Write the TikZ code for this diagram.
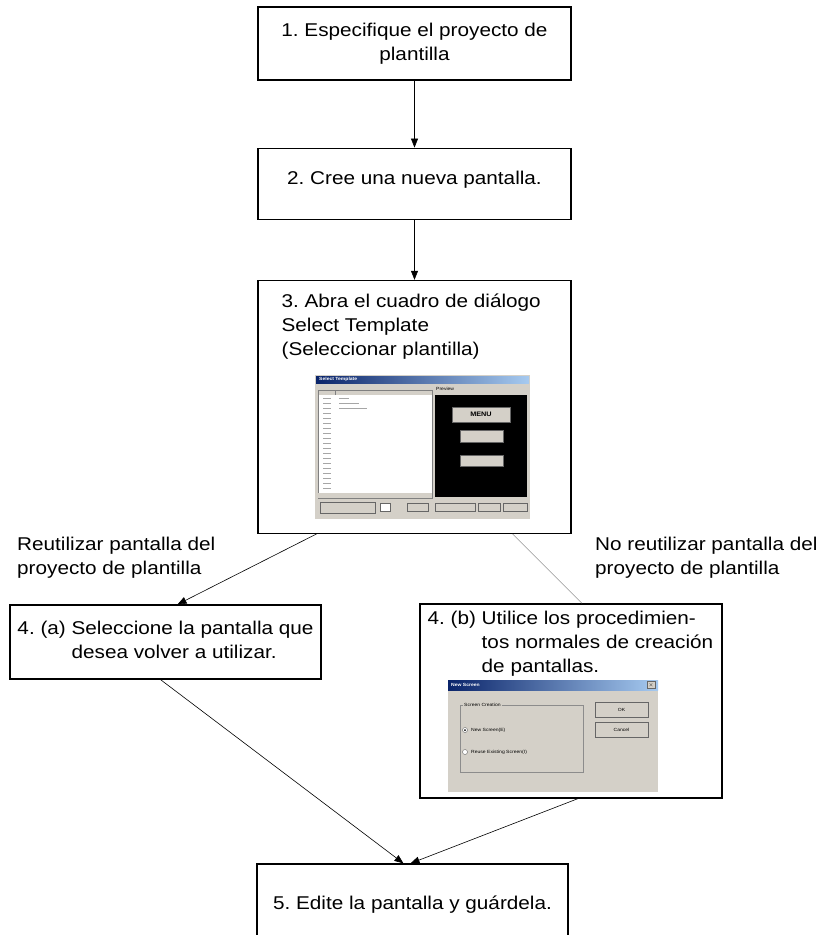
\documentclass[tikz,border=0pt]{standalone}
\usepackage{fontspec}
\setmainfont{Liberation Sans}[FakeStretch=1.12]
\usetikzlibrary{arrows.meta,positioning}
\definecolor{winface}{HTML}{D4D0C8}
\definecolor{wintitle}{HTML}{0A246A}
\definecolor{wintitleb}{HTML}{A6CAF0}
\definecolor{linkgrey}{HTML}{707070}
\frenchspacing

\begin{document}
\begin{tikzpicture}[x=1pt,y=-1pt,node distance=60pt,
  stepbox/.style={draw,line width=1.2pt,inner sep=4pt,align=center,
                  font=\fontsize{18.5}{24}\selectfont},
  caption/.style={inner sep=0pt,align=left,font=\fontsize{18.5}{24}\selectfont},
  link/.style={line width=0.6pt,-{Triangle[length=9pt,width=7pt]}},
  winbtn/.style={fill=winface,draw=black!60,line width=0.5pt,inner sep=0pt,
                 font=\fontsize{4.5}{5}\selectfont},
  wintext/.style={inner sep=1pt,font=\fontsize{4.5}{5}\selectfont}]
  \useasboundingbox[fill=white] (0,0) rectangle (823,935);

  \node[stepbox,minimum width=313pt,minimum height=73pt] (b1) at (414.5,43.5)
    {1. Especifique el proyecto de\\plantilla};
  \node[stepbox,minimum width=313pt,minimum height=71pt,text depth=12pt,
        below=67pt of b1] (b2)
    {2. Cree una nueva pantalla.};
  \node[stepbox,minimum width=313pt,minimum height=253pt,below=60pt of b2] (b3) {};
  \node[caption,anchor=north west] (t3) at ([xshift=24pt,yshift=-14pt]b3.north west)
    {3. Abra el cuadro de diálogo\\Select Template\\(Seleccionar plantilla)};

  % Select Template dialog
  \begin{scope}[shift={(315,375)}]
    \fill[winface] (0,0) rectangle (215,144);
    \shade[left color=wintitle,right color=wintitleb] (1,1) rectangle (214,8);
    \node[wintext,anchor=west,text=white] (sttitle) at (3,4.5) {\bfseries Select Template};
    \fill[white] (3,15) rectangle (117,123);
    \fill[winface] (3,15) rectangle (117,20);
    \draw[black!50,line width=0.4pt] (3,15) rectangle (117,123) (20,15) -- (20,20);
    \foreach \r in {0,...,19}
      \draw[black!35,line width=1pt] (8,23+5*\r) -- (16,23+5*\r);
    \draw[black!35,line width=1pt] (24,23) -- (34,23) (24,28) -- (44,28) (24,33) -- (52,33);
    \fill[winface] (3,118) rectangle (117,123);
    \node[wintext,anchor=west] (stprev) at (120,14) {Preview};
    \fill[black] (120,20) rectangle (212,122);
    \node[winbtn,minimum width=58pt,minimum height=15pt] (menubtn) at (166,39.5)
      {\fontsize{6.5}{7}\selectfont\bfseries MENU};
    \node[winbtn,minimum width=43pt,minimum height=12pt] (monbtn) at (166.5,61) {};
    \node[winbtn,minimum width=43pt,minimum height=11pt] (almbtn) at (166.5,85.5) {};
    \node[winbtn,minimum width=55pt,minimum height=11pt] (fpbtn) at (32.5,132.5) {};
    \node[winbtn,fill=white,minimum width=10pt,minimum height=8pt] (numbox) at (70,132.5) {};
    \node[winbtn,minimum width=21pt,minimum height=8pt] (asgbtn) at (102.5,132.5) {};
    \node[winbtn,minimum width=40pt,minimum height=8pt] (cpybtn) at (140,132.5) {};
    \node[winbtn,minimum width=22pt,minimum height=8pt] (okbtn) at (174,132.5) {};
    \node[winbtn,minimum width=24pt,minimum height=8pt] (cnbtn) at (200,132.5) {};
  \end{scope}

  \node[caption,anchor=north west] (lreuse) at (17,537)
    {Reutilizar pantalla del\\proyecto de plantilla};
  \node[caption,anchor=north west] (lnoreuse) at (595,537)
    {No reutilizar pantalla del\\proyecto de plantilla};

  \node[stepbox,minimum width=311pt,minimum height=74pt] (b4a) at (165.5,642)
    {\begin{tabular}{@{}l@{\ }l@{}}4. (a) & Seleccione la pantalla que\\
     & desea volver a utilizar.\end{tabular}};
  \node[stepbox,minimum width=302pt,minimum height=194pt] (b4b) at (571,701) {};
  \node[caption,anchor=north west] (t4b) at ([xshift=8pt,yshift=-4pt]b4b.north west)
    {\begin{tabular}{@{}l@{\ }l@{}}4. (b) & Utilice los procedimien-\\
     & tos normales de creación\\ & de pantallas.\end{tabular}};

  % New Screen dialog
  \begin{scope}[shift={(448,680)}]
    \fill[winface] (0,0) rectangle (210,112);
    \shade[left color=wintitle,right color=wintitleb] (0,0) rectangle (210,10);
    \node[wintext,anchor=west,text=white] (nstitle) at (2,5) {\bfseries New Screen};
    \node[winbtn,minimum width=8pt,minimum height=7pt] (nsclose) at (203,5) {$\times$};
    \draw[black!45,line width=0.5pt] (12,25) rectangle (135,92);
    \node[wintext,anchor=west,fill=winface] (nsgroup) at (15,25) {Screen Creation};
    \draw[black!60,fill=white,line width=0.4pt] (17,50) circle (2.5);
    \fill[black] (17,50) circle (1);
    \node[wintext,anchor=west] (nsnew) at (22,50) {New Screen(E)};
    \draw[black!60,fill=white,line width=0.4pt] (17,72) circle (2.5);
    \node[wintext,anchor=west] (nsreuse) at (22,72) {Reuse Existing Screen(I)};
    \node[winbtn,minimum width=53pt,minimum height=15pt] (nsok) at (173.5,29.5) {OK};
    \node[winbtn,minimum width=53pt,minimum height=15pt] (nscancel) at (173.5,49.5) {Cancel};
  \end{scope}

  \node[stepbox,minimum width=311pt,minimum height=81pt] (b5) at (412.5,904.5)
    {5. Edite la pantalla y guárdela.};

  \draw[link] (b1) -- (b2);
  \draw[link] (b2) -- (b3);
  \draw[link] ([xshift=59pt]b3.south west) -- ([xshift=12pt]b4a.north);
  \draw[line width=0.4pt,linkgrey] ([xshift=-59pt]b3.south east) -- ([xshift=11pt]b4b.north);
  \draw[link] ([xshift=-5pt]b4a.south) -- ([xshift=-9pt]b5.north);
  \draw[link] ([xshift=7pt]b4b.south) -- ([xshift=-2pt]b5.north);
\end{tikzpicture}
\end{document}
